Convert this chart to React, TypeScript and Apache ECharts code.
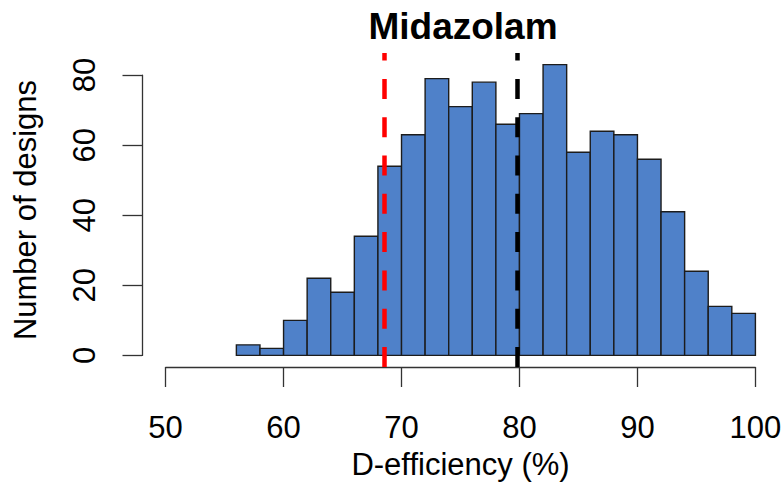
import React, { useEffect, useRef } from "react";
import * as echarts from "echarts";

// Histogram data (bin width 2)
const binStarts = [56, 58, 60, 62, 64, 66, 68, 70, 72, 74, 76, 78, 80, 82, 84, 86, 88, 90, 92, 94, 96, 98];
const binWidth = 2;
const counts = [3, 2, 10, 22, 18, 34, 54, 63, 79, 71, 78, 66, 69, 83, 58, 64, 63, 56, 41, 24, 14, 12];
const xTicks = [50, 60, 70, 80, 90, 100];
const yTicks = [0, 20, 40, 60, 80];
const redLineX = 68.5;
const blackLineX = 79.8;
const titleText = "Midazolam";
const xLabel = "D-efficiency (%)";
const yLabel = "Number of designs";

const FONT = "'Liberation Sans', Arial, sans-serif";
const AXIS_COLOR = "#333333";

export default function App() {
  const ref = useRef<HTMLDivElement>(null);

  useEffect(() => {
    if (!ref.current) return;
    const chart = echarts.init(ref.current, undefined, { renderer: "svg" });

    const xMin = xTicks[0] - 2;
    const xMax = xTicks[xTicks.length - 1] + 2;
    const maxCount = Math.max(...counts);
    const yPad = maxCount * 0.04;

    const histData = binStarts.map((s, i) => [s, s + binWidth, counts[i]]);

    const gridBase = { outerBoundsMode: "none", containLabel: false };

    const option: any = {
      animation: false,
      textStyle: { fontFamily: FONT },
      graphic: [
        {
          type: "text",
          x: 463,
          y: 26,
          style: {
            text: titleText,
            font: `bold 37px ${FONT}`,
            fill: "#000",
            textAlign: "center",
            textVerticalAlign: "middle",
          },
        },
      ],
      grid: [
        { ...gridBase, left: 142, right: 3, top: 53, bottom: 116 },
        { ...gridBase, left: 165.6, right: 26.6, top: 53, bottom: 116 },
        { ...gridBase, left: 142, right: 3, top: 75.1, bottom: 127.6 },
      ],
      xAxis: [
        {
          gridIndex: 0,
          type: "value",
          min: xMin,
          max: xMax,
          name: xLabel,
          nameLocation: "middle",
          nameGap: 81,
          nameTextStyle: { fontSize: 31, lineHeight: 32, color: "#000", fontFamily: FONT },
          axisLine: { show: false },
          axisTick: { show: false },
          axisLabel: { show: false },
          splitLine: { show: false },
        },
        {
          gridIndex: 1,
          type: "value",
          min: xTicks[0],
          max: xTicks[xTicks.length - 1],
          interval: xTicks[1] - xTicks[0],
          position: "bottom",
          axisLine: { show: true, lineStyle: { color: AXIS_COLOR, width: 1.3 } },
          axisTick: { show: true, inside: false, length: 20, lineStyle: { color: AXIS_COLOR, width: 1.3 } },
          axisLabel: { show: true, fontSize: 31, color: "#000", fontFamily: FONT, margin: 45 },
          splitLine: { show: false },
        },
        { gridIndex: 2, type: "value", show: false, min: 0, max: 1 },
      ],
      yAxis: [
        {
          gridIndex: 0,
          type: "value",
          min: -yPad,
          max: maxCount + yPad,
          name: yLabel,
          nameLocation: "middle",
          nameRotate: 90,
          nameGap: 101,
          nameTextStyle: { fontSize: 31, color: "#000", fontFamily: FONT },
          axisLine: { show: false },
          axisTick: { show: false },
          axisLabel: { show: false },
          splitLine: { show: false },
        },
        { gridIndex: 1, type: "value", show: false, min: 0, max: 1 },
        {
          gridIndex: 2,
          type: "value",
          min: yTicks[0],
          max: yTicks[yTicks.length - 1],
          interval: yTicks[1] - yTicks[0],
          position: "left",
          axisLine: { show: true, lineStyle: { color: AXIS_COLOR, width: 1.3 } },
          axisTick: { show: true, inside: false, length: 19.5, lineStyle: { color: AXIS_COLOR, width: 1.3 } },
          axisLabel: { show: true, rotate: 90, fontSize: 31, color: "#000", fontFamily: FONT, margin: 42 },
          splitLine: { show: false },
        },
      ],
      series: [
        {
          type: "custom",
          xAxisIndex: 0,
          yAxisIndex: 0,
          data: histData,
          encode: { x: [0, 1], y: 2 },
          silent: true,
          renderItem: (params: any, api: any) => {
            const p0 = api.coord([api.value(0), api.value(2)]);
            const p1 = api.coord([api.value(1), 0]);
            return {
              type: "rect",
              shape: { x: p0[0], y: p0[1], width: p1[0] - p0[0], height: p1[1] - p0[1] },
              style: { fill: "#4F81C9", stroke: "#1c1c1c", lineWidth: 1.4 },
            };
          },
          z: 2,
        },
        {
          type: "line",
          xAxisIndex: 0,
          yAxisIndex: 0,
          data: [],
          silent: true,
          z: 5,
          markLine: {
            silent: true,
            symbol: ["none", "none"],
            label: { show: false },
            animation: false,
            data: [
              { xAxis: redLineX, lineStyle: { color: "#FF0000", width: 4.5, type: [20, 18.3] } },
              { xAxis: blackLineX, lineStyle: { color: "#000000", width: 4.5, type: [20, 18.3] } },
            ],
          },
        },
      ],
    };

    chart.setOption(option);
    return () => chart.dispose();
  }, []);

  return (
    <div
      ref={ref}
      style={{ position: "absolute", left: 0, top: 0, width: 782, height: 483, background: "#fff" }}
    />
  );
}
